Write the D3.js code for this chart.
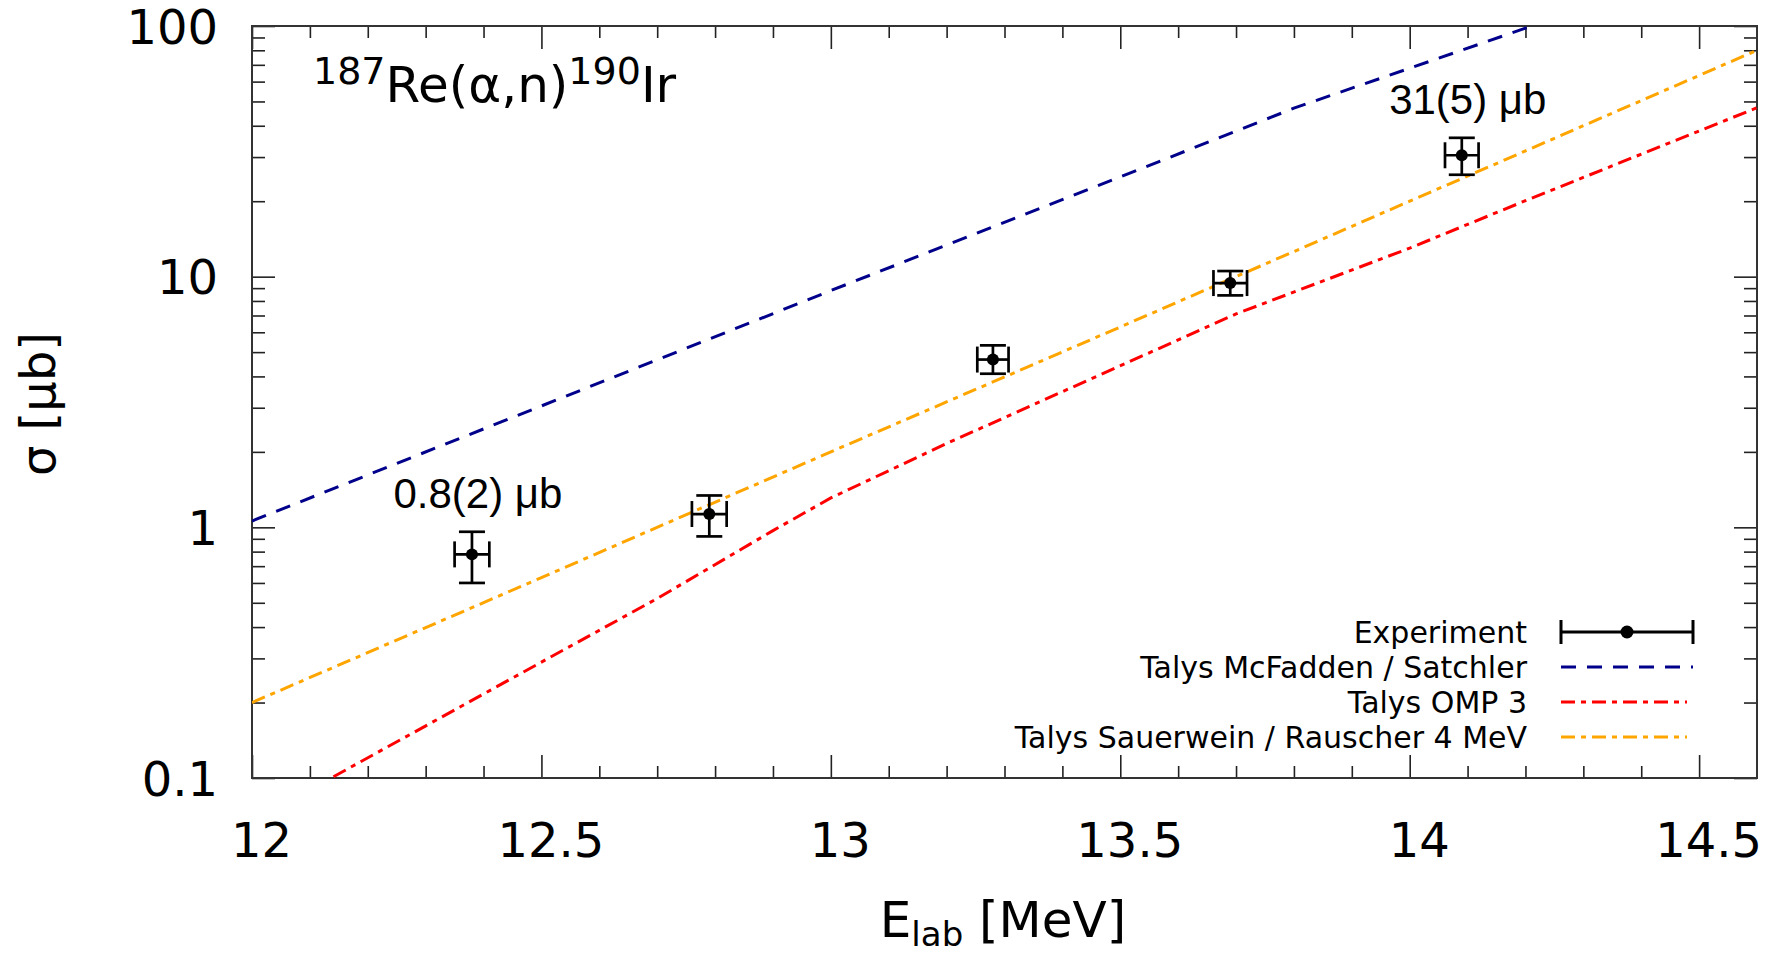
<!DOCTYPE html>
<html><head><meta charset="utf-8">
<script src="https://cdn.jsdelivr.net/npm/d3@7"></script>
<style>
body{margin:0;background:#fff;}
svg text{font-family:"DejaVu Sans",Verdana,sans-serif;fill:#000;}
</style>
</head><body>
<svg id="chart" width="1777" height="958"></svg>
<script>
// ---- data ----
const expEnergy    = [12.38, 12.79, 13.28, 13.69, 14.09];
const expEnergyErr = [0.03, 0.03, 0.027, 0.029, 0.029];
const expSigma     = [0.78, 1.13, 4.67, 9.43, 30.5];
const expSigmaLo   = [0.60, 0.92, 4.10, 8.42, 25.5];
const expSigmaHi   = [0.96, 1.34, 5.32, 10.53, 35.8];
const annotIndex   = [0, 4];
const annotText    = ["0.8(2) μb", "31(5) μb"];

const mcfE = [12.0, 12.5, 13.0, 13.5, 13.8, 14.2, 14.6];
const mcfV = [1.06, 3.05, 8.8, 25.0, 47, 98, 215];

const omp3E = [12.0, 12.5, 12.7, 12.9, 13.0, 13.2, 13.7, 14.0, 14.2, 14.6];
const omp3V = [0.067, 0.29, 0.52, 0.97, 1.31, 2.16, 7.1, 13.0, 20.1, 47.2];

const sauE = [12.0, 12.5, 13.0, 13.5, 14.0, 14.6];
const sauV = [0.2, 0.63, 2.0, 6.3, 20, 80];

const xMajor = [12, 12.5, 13, 13.5, 14, 14.5];
const xMajorLabels = ["12", "12.5", "13", "13.5", "14", "14.5"];
const yMajor = [0.1, 1, 10, 100];
const yMajorLabels = ["0.1", "1", "10", "100"];

const legendLabels = ["Experiment", "Talys McFadden / Satchler", "Talys OMP 3", "Talys Sauerwein / Rauscher 4 MeV"];
const seriesColors = ["#000000", "#00008b", "#ff0000", "#ffa500"];
const seriesDash = [null, "15,11", "14,6,5,6", "14,6,5,6"];

// ---- layout ----
const L = 252, R = 1757, T = 26, B = 778;
const svg = d3.select("#chart");
const x = d3.scaleLinear().domain([12, 14.6]).range([L, R]);
const y = d3.scaleLog().domain([0.1, 100]).range([B, T]);

const xMinor = d3.range(121, 146).map(d => d / 10).filter(d => Math.abs(d * 2 - Math.round(d * 2)) > 1e-6);
const yMinor = [];
[0.1, 1, 10].forEach(dec => { for (let k = 2; k <= 9; k++) yMinor.push(dec * k); });

const axisStyle = g => {
  g.select(".domain").remove();
  g.selectAll(".tick line").attr("stroke", "#222").attr("stroke-width", 1.6);
};

function addAxis(axisFn, scale, vals, size, transform, labels) {
  const ax = axisFn(scale).tickValues(vals).tickSize(-size).tickSizeOuter(0);
  if (labels) ax.tickFormat((d, i) => labels[i]); else ax.tickFormat("");
  return svg.append("g").attr("transform", transform).call(ax).call(axisStyle);
}
const gxb = addAxis(d3.axisBottom, x, xMajor, 23, `translate(0,${B})`, xMajorLabels);
addAxis(d3.axisBottom, x, xMinor, 12, `translate(0,${B})`);
addAxis(d3.axisTop, x, xMajor, 23, `translate(0,${T})`);
addAxis(d3.axisTop, x, xMinor, 12, `translate(0,${T})`);
const gyl = addAxis(d3.axisLeft, y, yMajor, 23, `translate(${L},0)`, yMajorLabels);
addAxis(d3.axisLeft, y, yMinor, 13, `translate(${L},0)`);
addAxis(d3.axisRight, y, yMajor, 23, `translate(${R},0)`);
addAxis(d3.axisRight, y, yMinor, 13, `translate(${R},0)`);

gxb.selectAll(".tick text")
  .attr("y", 79).attr("dy", null).attr("x", 9)
  .attr("font-size", 48).attr("font-family", "DejaVu Sans, Verdana, sans-serif").attr("fill", "#000");
gyl.selectAll(".tick text")
  .attr("x", -34).attr("dy", "0.36em")
  .attr("font-size", 48).attr("font-family", "DejaVu Sans, Verdana, sans-serif").attr("fill", "#000");

// frame
svg.append("rect").attr("x", L).attr("y", T).attr("width", R - L).attr("height", B - T)
  .attr("fill", "none").attr("stroke", "#333").attr("stroke-width", 2);

// clip
svg.append("clipPath").attr("id", "plotclip").append("rect")
  .attr("x", L).attr("y", T).attr("width", R - L).attr("height", B - T);

// theory lines
const line = d3.line().x(d => x(d[0])).y(d => y(d[1]));
const theory = [
  {E: mcfE, V: mcfV, s: 1},
  {E: omp3E, V: omp3V, s: 2},
  {E: sauE, V: sauV, s: 3}
];
const gl = svg.append("g").attr("clip-path", "url(#plotclip)");
theory.forEach(t => {
  gl.append("path").datum(t.E.map((e, i) => [e, t.V[i]]))
    .attr("d", line).attr("fill", "none")
    .attr("stroke", seriesColors[t.s]).attr("stroke-width", 3)
    .attr("stroke-dasharray", seriesDash[t.s]);
});

// experiment points
const cap = 13;
const ge = svg.append("g").attr("stroke", "#000").attr("stroke-width", 2.7);
expEnergy.forEach((e, i) => {
  const cx = x(e), cy = y(expSigma[i]);
  const x0 = x(e - expEnergyErr[i]), x1 = x(e + expEnergyErr[i]);
  const y0 = y(expSigmaLo[i]), y1 = y(expSigmaHi[i]);
  ge.append("line").attr("x1", cx).attr("x2", cx).attr("y1", y0).attr("y2", y1);
  ge.append("line").attr("x1", cx - cap).attr("x2", cx + cap).attr("y1", y0).attr("y2", y0);
  ge.append("line").attr("x1", cx - cap).attr("x2", cx + cap).attr("y1", y1).attr("y2", y1);
  ge.append("line").attr("x1", x0).attr("x2", x1).attr("y1", cy).attr("y2", cy);
  ge.append("line").attr("x1", x0).attr("x2", x0).attr("y1", cy - cap).attr("y2", cy + cap);
  ge.append("line").attr("x1", x1).attr("x2", x1).attr("y1", cy - cap).attr("y2", cy + cap);
  svg.append("circle").attr("cx", cx).attr("cy", cy).attr("r", 6).attr("fill", "#000");
});

// annotations
annotIndex.forEach((idx, k) => {
  svg.append("text")
    .attr("x", x(expEnergy[idx]) + 6).attr("y", y(expSigmaHi[idx]) - 24)
    .attr("text-anchor", "middle")
    .style("font-family", "'Liberation Sans', Arial, sans-serif")
    .attr("font-size", 42).text(annotText[k]);
});

// title
const title = svg.append("text").attr("x", 313).attr("y", 102).attr("font-size", 50);
title.append("tspan").attr("font-size", 38).attr("dy", -18).text("187");
title.append("tspan").attr("dy", 18).text("Re(α,n)");
title.append("tspan").attr("font-size", 38).attr("dy", -18).text("190");
title.append("tspan").attr("dy", 18).text("Ir");

// axis titles
const xl = svg.append("text").attr("x", 1003).attr("y", 937).attr("text-anchor", "middle").attr("font-size", 50);
xl.append("tspan").text("E");
xl.append("tspan").attr("font-size", 34).attr("dy", 9).text("lab");
xl.append("tspan").attr("dy", -9).text(" [MeV]");

svg.append("text").attr("transform", "translate(38,404) rotate(-90)")
  .attr("text-anchor", "middle").attr("dominant-baseline", "central")
  .attr("font-size", 48).text("σ [μb]");

// legend
const lgY0 = 632, lgDY = 35, lgTextX = 1527, lgX0 = 1561, lgX1 = 1693;
legendLabels.forEach((lab, i) => {
  const yy = lgY0 + i * lgDY;
  svg.append("text").attr("x", lgTextX).attr("y", yy).attr("text-anchor", "end")
    .attr("dominant-baseline", "central").attr("font-size", 30).text(lab);
  if (i === 0) {
    const g = svg.append("g").attr("stroke", "#000").attr("stroke-width", 3);
    g.append("line").attr("x1", lgX0).attr("x2", lgX1).attr("y1", yy).attr("y2", yy);
    g.append("line").attr("x1", lgX0).attr("x2", lgX0).attr("y1", yy - 12).attr("y2", yy + 12);
    g.append("line").attr("x1", lgX1).attr("x2", lgX1).attr("y1", yy - 12).attr("y2", yy + 12);
    svg.append("circle").attr("cx", (lgX0 + lgX1) / 2).attr("cy", yy).attr("r", 6.5).attr("fill", "#000");
  } else {
    svg.append("line").attr("x1", lgX0).attr("x2", i === 1 ? lgX1 : lgX1 - 6).attr("y1", yy).attr("y2", yy)
      .attr("stroke", seriesColors[i]).attr("stroke-width", 3.2).attr("stroke-dasharray", seriesDash[i]);
  }
});
</script>
</body></html>
